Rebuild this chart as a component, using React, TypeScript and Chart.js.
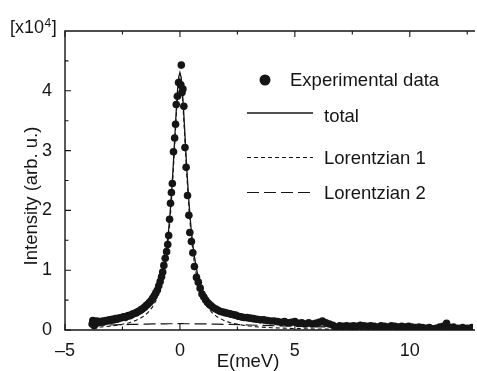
import React, { useEffect, useRef } from "react";
import { Chart, registerables } from "chart.js";
Chart.register(...registerables);

// Experimental data (E in meV, intensity in units of 1e4)
const expE = [
  -3.82, -3.79, -3.76, -3.73, -3.7, -3.66, -3.62, -3.56, -3.5, -3.43, -3.36, -3.29, -3.22, -3.15, -3.08,
  -3.01, -2.94, -2.87, -2.8, -2.73, -2.66, -2.59, -2.52, -2.45, -2.38, -2.31, -2.24, -2.17, -2.1, -2.03,
  -1.96, -1.89, -1.82, -1.75, -1.68, -1.61, -1.54, -1.47, -1.4, -1.33, -1.26, -1.19, -1.12, -1.05, -0.98,
  -0.92, -0.86, -0.8, -0.75, -0.7, -0.64, -0.58, -0.53, -0.49, -0.45, -0.41, -0.37, -0.33, -0.28, -0.23,
  -0.19, -0.16, -0.11, -0.06, 0.06, 0.04, 0.09, 0.13, 0.17, 0.22, 0.27, 0.33, 0.39, 0.43, 0.5,
  0.56, 0.63, 0.72, 0.8, 0.88, 0.96, 1.04, 1.12, 1.2, 1.28, 1.37, 1.46, 1.56, 1.66, 1.76,
  1.86, 1.96, 2.07, 2.18, 2.3, 2.42, 2.54, 2.66, 2.79, 2.92, 3.06, 3.2, 3.35, 3.5, 3.65,
  3.8, 3.95, 4.1, 4.25, 4.4, 4.55, 4.7, 4.85, 5.0, 5.15, 5.3, 5.45, 5.6, 5.75, 5.9,
  6.05, 6.2, 6.35, 6.5, 6.65, 6.8, 6.95, 7.1, 7.25, 7.4, 7.55, 7.7, 7.85, 8.0, 8.15,
  8.3, 8.45, 8.6, 8.75, 8.9, 9.05, 9.2, 9.35, 9.5, 9.65, 9.8, 9.95, 10.1, 10.25, 10.4,
  10.55, 10.7, 10.85, 11.0, 11.15, 11.3, 11.45, 11.6, 11.75, 11.9, 12.1, 12.3, 12.5, 12.7,
];
const expI = [
  0.1, 0.16, 0.12, 0.07, 0.14, 0.11, 0.15, 0.12, 0.14, 0.13, 0.15, 0.14, 0.16, 0.15, 0.17,
  0.16, 0.18, 0.17, 0.19, 0.18, 0.2, 0.2, 0.21, 0.22, 0.21, 0.23, 0.24, 0.24, 0.26, 0.27,
  0.28, 0.29, 0.31, 0.32, 0.34, 0.36, 0.38, 0.41, 0.43, 0.46, 0.49, 0.53, 0.57, 0.62, 0.67,
  0.74, 0.81, 0.89, 0.97, 1.08, 1.2, 1.31, 1.43, 1.58, 1.85, 2.12, 2.3, 2.45, 2.98, 3.21,
  3.44, 3.77, 3.91, 4.14, 4.43, 4.1, 3.97, 4.03, 3.74, 3.05, 2.72, 2.25, 1.92, 1.63, 1.48,
  1.29, 1.06, 0.88, 0.8, 0.7, 0.6, 0.55, 0.5, 0.46, 0.43, 0.4, 0.37, 0.35, 0.33, 0.31,
  0.3, 0.29, 0.28, 0.27, 0.26, 0.25, 0.23, 0.22, 0.21, 0.21, 0.2, 0.19, 0.18, 0.17, 0.17,
  0.16, 0.15, 0.15, 0.14, 0.13, 0.14, 0.12, 0.13, 0.14, 0.11, 0.12, 0.1, 0.12, 0.1, 0.11,
  0.13, 0.15, 0.12, 0.1, 0.08, 0.05, 0.07, 0.06, 0.07, 0.06, 0.07, 0.06, 0.08, 0.07, 0.06,
  0.07, 0.06, 0.05, 0.07, 0.06, 0.05, 0.07, 0.06, 0.05, 0.06, 0.05, 0.06, 0.05, 0.04, 0.05,
  0.04, 0.03, 0.04, 0.02, 0.03, 0.05, 0.06, 0.11, 0.04, 0.05, 0.03, 0.04, 0.03, 0.04,
];

// Fitted curves, read at these energies
const fitE = [
  -3.8, -3.4, -3.0, -2.6, -2.2, -1.9, -1.6, -1.4, -1.2, -1.05, -0.9, -0.8, -0.7, -0.6, -0.5,
  -0.45, -0.4, -0.35, -0.3, -0.25, -0.2, -0.15, -0.1, -0.05, 0, 0.05, 0.1, 0.15, 0.2, 0.25,
  0.3, 0.35, 0.4, 0.45, 0.5, 0.6, 0.7, 0.8, 0.9, 1.05, 1.2, 1.4, 1.6, 1.9, 2.2,
  2.6, 3.0, 3.5, 4, 5, 6, 7, 8, 9, 10, 11, 12, 12.8,
];
const fitTotal = [
  0.117, 0.131, 0.15, 0.176, 0.215, 0.257, 0.322, 0.388, 0.484, 0.588, 0.738, 0.876, 1.06, 1.306, 1.642,
  1.852, 2.097, 2.377, 2.692, 3.036, 3.394, 3.739, 4.033, 4.234, 4.305, 4.234, 4.033, 3.739, 3.394, 3.036,
  2.692, 2.377, 2.097, 1.852, 1.642, 1.306, 1.06, 0.876, 0.738, 0.588, 0.484, 0.388, 0.322, 0.257, 0.215,
  0.176, 0.15, 0.127, 0.11, 0.086, 0.069, 0.057, 0.047, 0.04, 0.034, 0.029, 0.025, 0.023,
];
const fitL1 = [
  0.042, 0.052, 0.066, 0.088, 0.122, 0.162, 0.224, 0.288, 0.383, 0.486, 0.635, 0.773, 0.956, 1.202, 1.538,
  1.748, 1.992, 2.272, 2.587, 2.931, 3.289, 3.634, 3.928, 4.129, 4.2, 4.129, 3.928, 3.634, 3.289, 2.931,
  2.587, 2.272, 1.992, 1.748, 1.538, 1.202, 0.956, 0.773, 0.635, 0.486, 0.383, 0.288, 0.224, 0.162, 0.122,
  0.088, 0.066, 0.049, 0.038, 0.024, 0.017, 0.012, 0.0095, 0.0075, 0.0061, 0.005, 0.0042, 0.0037,
];
const fitL2 = [
  0.075, 0.0795, 0.084, 0.0884, 0.0926, 0.0954, 0.098, 0.0996, 0.101, 0.1019, 0.1027, 0.1032, 0.1036, 0.104, 0.1043,
  0.1044, 0.1045, 0.1046, 0.1047, 0.1048, 0.1049, 0.105, 0.105, 0.105, 0.105, 0.105, 0.105, 0.105, 0.1049, 0.1048,
  0.1047, 0.1046, 0.1045, 0.1044, 0.1043, 0.104, 0.1036, 0.1032, 0.1027, 0.1019, 0.101, 0.0996, 0.098, 0.0954, 0.0926,
  0.0884, 0.084, 0.0783, 0.0727, 0.062, 0.0525, 0.0445, 0.0378, 0.0323, 0.0278, 0.0241, 0.021, 0.0189,
];

const xTicks = [-5, 0, 5, 10];
const xMinorTicks = [-2.5, 2.5, 7.5, 12.5];
const yTicks = [0, 1, 2, 3, 4];
const yMinorTicks = [0.5, 1.5, 2.5, 3.5, 4.5];
const xTitle = "E(meV)";
const yTitle = "Intensity (arb. u.)";
const scaleLabel = "[x10";
const scaleExp = "4";
const legendLabels = ["Experimental data", "total", "Lorentzian 1", "Lorentzian 2"];

const FONT = "'Liberation Sans', Arial, Helvetica, sans-serif";
const INK = "#151515";

export default function App() {
  const ref = useRef<HTMLCanvasElement>(null);

  useEffect(() => {
    document.body.style.margin = "0";
    const canvas = ref.current!;
    const pts = (xs: number[], ys: number[]) => xs.map((x, i) => ({ x, y: ys[i] }));

    const decor = {
      id: "decor",
      afterDraw(chart: any) {
        const ctx = chart.ctx as CanvasRenderingContext2D;
        const { left, right, top, bottom } = chart.chartArea;
        const xs = chart.scales.x;
        const ys = chart.scales.y;
        ctx.save();
        ctx.strokeStyle = INK;
        ctx.lineWidth = 1.4;
        // axes frame: left, bottom, top
        ctx.beginPath();
        ctx.moveTo(right + 2, top);
        ctx.lineTo(left, top);
        ctx.lineTo(left, bottom);
        ctx.lineTo(right + 2, bottom);
        ctx.stroke();
        ctx.lineWidth = 1.1;
        ctx.beginPath();
        const tickX = (v: number, len: number) => {
          const px = xs.getPixelForValue(v);
          ctx.moveTo(px, bottom);
          ctx.lineTo(px, bottom - len);
          ctx.moveTo(px, top);
          ctx.lineTo(px, top + len);
        };
        xTicks.forEach((v) => tickX(v, 6));
        xMinorTicks.forEach((v) => tickX(v, 3.5));
        const tickY = (v: number, len: number) => {
          const py = ys.getPixelForValue(v);
          ctx.moveTo(left, py);
          ctx.lineTo(left + len, py);
        };
        yTicks.forEach((v) => tickY(v, 6));
        yMinorTicks.forEach((v) => tickY(v, 3.5));
        ctx.stroke();

        // axis titles
        ctx.fillStyle = INK;
        ctx.font = `18.5px ${FONT}`;
        ctx.textAlign = "center";
        ctx.textBaseline = "alphabetic";
        ctx.fillText(xTitle, 248, 367);
        ctx.save();
        ctx.translate(37, 196);
        ctx.rotate(-Math.PI / 2);
        ctx.fillText(yTitle, 0, 0);
        ctx.restore();

        // multiplier label
        ctx.textAlign = "left";
        ctx.font = `18px ${FONT}`;
        ctx.fillText(scaleLabel, 10, 33);
        const w = ctx.measureText(scaleLabel).width;
        ctx.font = `12px ${FONT}`;
        ctx.fillText(scaleExp, 10 + w + 0.5, 27);
        const w2 = ctx.measureText(scaleExp).width;
        ctx.font = `18px ${FONT}`;
        ctx.fillText("]", 10 + w + w2 + 1, 33);

        // legend
        const ds = chart.data.datasets;
        ctx.font = `18.5px ${FONT}`;
        ctx.fillStyle = INK;
        ctx.beginPath();
        ctx.arc(265, 80, 5.5, 0, Math.PI * 2);
        ctx.fill();
        ctx.fillText(legendLabels[0], 290, 86);
        const rows = [
          { y: 113, base: 122, i: 1 },
          { y: 157.5, base: 163.5, i: 2 },
          { y: 192.5, base: 198.5, i: 3 },
        ];
        rows.forEach((r) => {
          const d = ds[r.i];
          ctx.save();
          ctx.strokeStyle = d.borderColor;
          ctx.lineWidth = d.borderWidth;
          ctx.setLineDash(d.borderDash || []);
          ctx.beginPath();
          ctx.moveTo(247, r.y);
          ctx.lineTo(313, r.y);
          ctx.stroke();
          ctx.restore();
          ctx.fillText(legendLabels[r.i], 324, r.base);
        });
        ctx.restore();
      },
    };

    const tickFont = { family: FONT, size: 18 };
    const chart = new Chart(canvas, {
      type: "scatter",
      data: {
        datasets: [
          {
            label: legendLabels[0],
            data: pts(expE, expI),
            showLine: false,
            pointRadius: 3.8,
            pointBackgroundColor: INK,
            pointBorderWidth: 0,
            borderColor: INK,
          },
          {
            label: legendLabels[1],
            data: pts(fitE, fitTotal),
            showLine: true,
            pointRadius: 0,
            borderColor: INK,
            borderWidth: 1.3,
            tension: 0,
          },
          {
            label: legendLabels[2],
            data: pts(fitE, fitL1),
            showLine: true,
            pointRadius: 0,
            borderColor: INK,
            borderWidth: 1.1,
            borderDash: [4, 3],
            tension: 0,
          },
          {
            label: legendLabels[3],
            data: pts(fitE, fitL2),
            showLine: true,
            pointRadius: 0,
            borderColor: INK,
            borderWidth: 1.2,
            borderDash: [12, 5],
            tension: 0,
          },
        ],
      },
      options: {
        responsive: false,
        animation: false,
        devicePixelRatio: 1,
        layout: { padding: { top: 31, right: 0, left: 0, bottom: 0 } },
        plugins: { legend: { display: false }, tooltip: { enabled: false }, title: { display: false } },
        scales: {
          x: {
            type: "linear",
            min: -5,
            max: 12.75,
            afterBuildTicks: (s: any) => {
              s.ticks = xTicks.map((v) => ({ value: v }));
            },
            afterFit: (s: any) => {
              s.height = 41;
              s.paddingLeft = 0;
              s.paddingRight = 0;
            },
            grid: { display: false },
            border: { display: false },
            ticks: {
              font: tickFont,
              color: INK,
              padding: 2,
              maxRotation: 0,
              autoSkip: false,
              callback: (v: any) => (Number(v) < 0 ? "\u2013" + Math.abs(Number(v)) : String(v)),
            },
          },
          y: {
            type: "linear",
            min: 0,
            max: 5,
            afterBuildTicks: (s: any) => {
              s.ticks = yTicks.map((v) => ({ value: v }));
            },
            afterFit: (s: any) => {
              s.width = 65;
            },
            grid: { display: false },
            border: { display: false },
            ticks: { font: tickFont, color: INK, padding: 5, autoSkip: false },
          },
        },
      },
      plugins: [decor],
    } as any);
    return () => chart.destroy();
  }, []);

  return <canvas ref={ref} width={477} height={371} style={{ display: "block" }} />;
}
